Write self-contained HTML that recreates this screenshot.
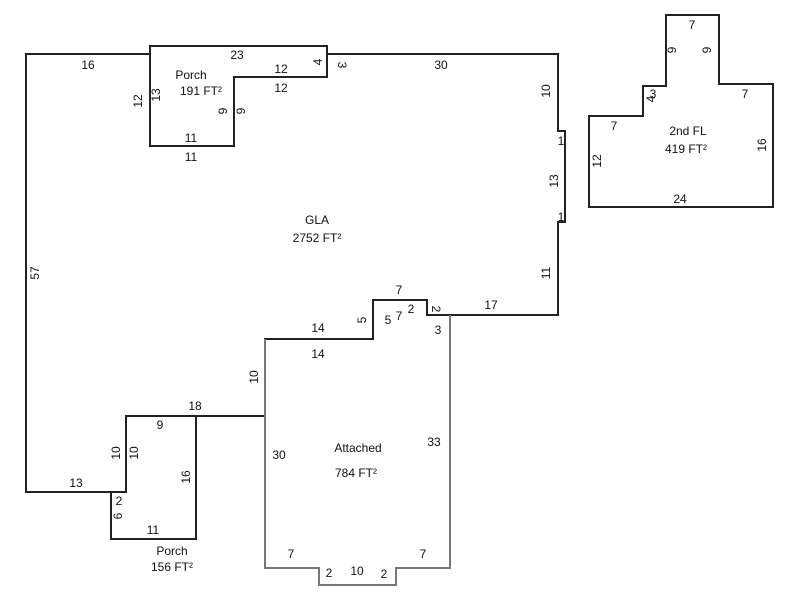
<!DOCTYPE html>
<html><head><style>body{margin:0;background:#fff}svg{display:block}text{font-family:"Liberation Sans",Arial,sans-serif;font-size:12px;fill:#111}</style></head>
<body>
<svg width="800" height="600" viewBox="0 0 800 600">
<g fill="none" stroke="#222" stroke-width="2">
<polyline points="150,54 26,54 26,492 111,492"/>
<polyline points="327,54 558,54 558,131 565,131 565,222 558,222 558,315 450,315 427,315 427,300 373,300 373,339 265,339 265,416 196,416"/>
<polygon points="150,46 327,46 327,77 234,77 234,146 150,146"/>
<polygon points="126,416 196,416 196,539 111,539 111,492 126,492"/>
<polygon points="666,15 719,15 719,84 773,84 773,207 589,207 589,116 643,116 643,86 666,86"/>
</g>
<polyline fill="none" stroke="#777" stroke-width="2" points="265,339 265,568 319,568 319,585 396,585 396,568 450,568 450,315"/>
<g text-anchor="middle">
<text x="88" y="69">16</text>
<text x="237" y="59">23</text>
<text x="191" y="79">Porch</text>
<text x="201" y="95">191 FT²</text>
<text x="281" y="73">12</text>
<text x="281" y="92">12</text>
<text x="191" y="142">11</text>
<text x="191" y="161">11</text>
<text x="441" y="69">30</text>
<text x="317" y="224">GLA</text>
<text x="317" y="242">2752 FT²</text>
<text x="399" y="294">7</text>
<text x="388" y="324">5</text>
<text x="399" y="320">7</text>
<text x="411" y="313">2</text>
<text x="438" y="334">3</text>
<text x="491" y="309">17</text>
<text x="318" y="332">14</text>
<text x="318" y="358">14</text>
<text x="195" y="410">18</text>
<text x="160" y="429">9</text>
<text x="119" y="505">2</text>
<text x="153" y="534">11</text>
<text x="172" y="555">Porch</text>
<text x="172" y="571">156 FT²</text>
<text x="76" y="487">13</text>
<text x="279" y="459">30</text>
<text x="358" y="452">Attached</text>
<text x="356" y="477">784 FT²</text>
<text x="434" y="446">33</text>
<text x="291" y="558">7</text>
<text x="423" y="558">7</text>
<text x="329" y="577">2</text>
<text x="357" y="575">10</text>
<text x="384" y="578">2</text>
<text x="561" y="145">1</text>
<text x="561" y="221">1</text>
<text x="692" y="29">7</text>
<text x="745" y="98">7</text>
<text x="614" y="130">7</text>
<text x="688" y="135">2nd FL</text>
<text x="686" y="153">419 FT²</text>
<text x="680" y="203">24</text>
<text x="653" y="98">3</text>
</g>
<g text-anchor="middle">
<text transform="translate(142,101) rotate(-90)">12</text>
<text transform="translate(160,95) rotate(-90)">13</text>
<text transform="translate(227,111) rotate(-90)">9</text>
<text transform="translate(245,111) rotate(-90)">9</text>
<text transform="translate(322,62) rotate(-90)">4</text>
<text transform="translate(338,65) rotate(90)">3</text>
<text transform="translate(550,91) rotate(-90)">10</text>
<text transform="translate(558,181) rotate(-90)">13</text>
<text transform="translate(550,273) rotate(-90)">11</text>
<text transform="translate(39,273) rotate(-90)">57</text>
<text transform="translate(366,320) rotate(-90)">5</text>
<text transform="translate(432,309) rotate(90)">2</text>
<text transform="translate(258,377) rotate(-90)">10</text>
<text transform="translate(120,453) rotate(-90)">10</text>
<text transform="translate(138,453) rotate(-90)">10</text>
<text transform="translate(190,477) rotate(-90)">16</text>
<text transform="translate(122,516) rotate(-90)">6</text>
<text transform="translate(676,50) rotate(-90)">9</text>
<text transform="translate(711,50) rotate(-90)">9</text>
<text transform="translate(655,99) rotate(-90)">4</text>
<text transform="translate(601,161) rotate(-90)">12</text>
<text transform="translate(766,145) rotate(-90)">16</text>
</g>
</svg>
</body></html>
